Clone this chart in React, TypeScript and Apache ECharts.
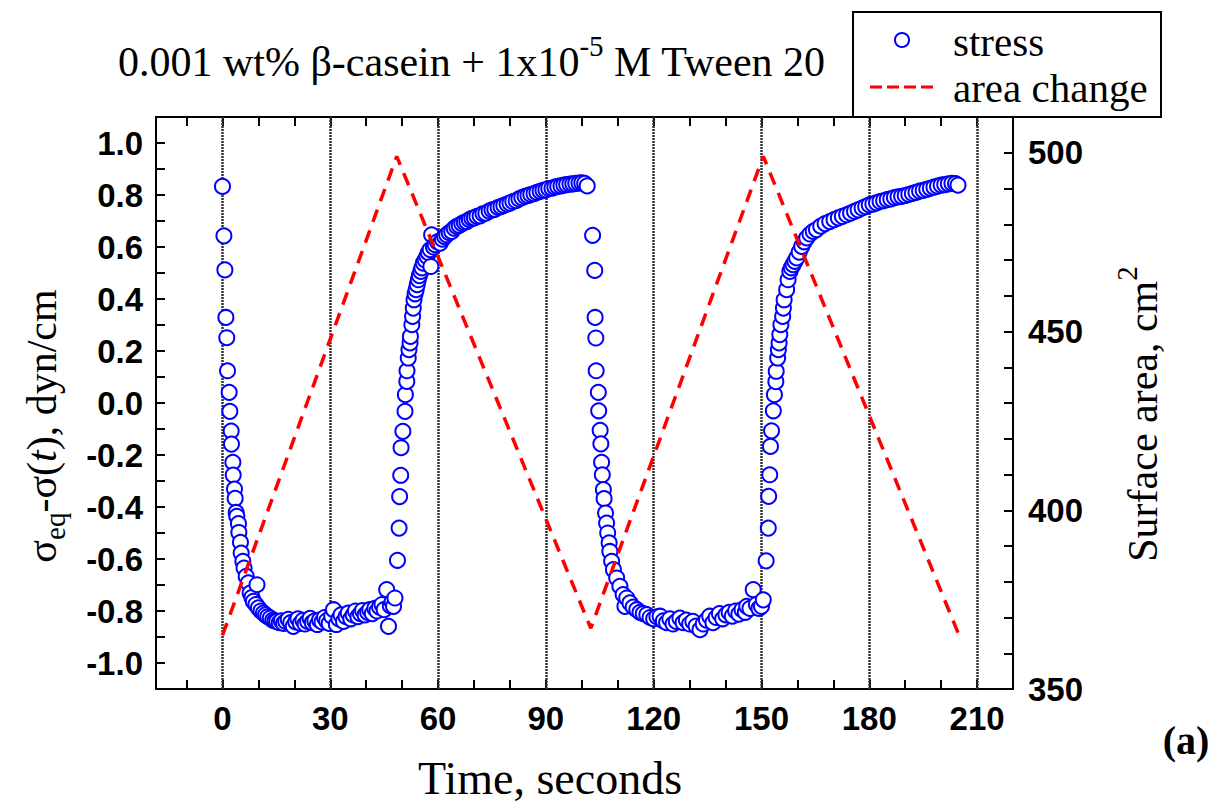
import React, { useEffect, useRef } from "react";
import * as echarts from "echarts";

// stress data: time (s) and sigma_eq - sigma(t) (dyn/cm)
const timeSec: number[] = [
  0, 0.4, 0.67, 0.95, 1.2, 1.4, 1.86, 2.05, 2.42, 2.5,
  2.89, 2.98, 3.34, 3.53, 3.81, 4.0, 4.45, 4.56, 5.0, 5.2,
  5.67, 6.0, 6.6, 7.2, 7.7, 8.2, 8.6, 9.3, 9.6, 10.0,
  10.7, 11.4, 12.0, 12.6, 13.3, 14.0, 14.6, 15.1, 15.8, 16.4,
  17.0, 17.6, 18.3, 19.0, 19.7, 20.4, 21.0, 21.7, 22.4, 23.0,
  23.7, 24.4, 25.0, 25.7, 26.4, 27.0, 27.7, 28.4, 29.0, 29.7,
  30.4, 30.9, 31.7, 32.4, 33.0, 33.7, 34.4, 35.0, 35.7, 36.4,
  37.0, 37.7, 38.4, 39.0, 39.7, 40.4, 41.0, 41.7, 42.4, 43.0,
  43.7, 44.4, 45.0, 45.7, 46.2, 46.7, 47.2, 47.6, 48.0, 48.7,
  49.15, 49.3, 49.6, 49.7, 50.2, 50.8, 50.9, 51.3, 51.35, 51.7,
  51.9, 52.2, 52.3, 52.7, 52.9, 53.1, 53.3, 53.6, 53.9, 54.2,
  54.5, 54.8, 55.2, 55.5, 55.9, 56.4, 56.9, 57.3, 57.8, 58.0,
  58.2, 58.7, 59.2, 59.8, 60.6, 61.2, 61.8, 62.4, 63.1, 63.8,
  64.5, 65.2, 65.9, 66.6, 67.3, 68.0, 68.7, 69.4, 70.1, 70.8,
  71.7, 72.5, 73.3, 74.2, 75.0, 75.8, 76.7, 77.5, 78.3, 79.2,
  80.0, 80.8, 81.7, 82.5, 83.3, 84.2, 85.0, 85.8, 86.7, 87.5,
  88.4, 89.2, 90.0, 90.8, 91.7, 92.5, 93.3, 94.2, 95.0, 95.8,
  96.7, 97.5, 98.3, 99.2, 100.0, 100.8, 101.5,
  103.0, 103.6, 103.7, 103.9, 104.0, 104.6, 104.7, 105.1, 105.3, 105.5,
  105.7, 106.0, 106.2, 106.6, 106.9, 107.2, 107.6, 107.8, 108.3, 108.8,
  109.7, 110.6, 111.5, 112.0, 112.5, 113.4, 114.3, 115.3, 116.2, 117.1,
  118.1, 119.0, 120.0, 120.9, 121.8, 122.7, 123.6, 124.5, 125.4, 126.3,
  127.3, 128.2, 129.1, 130.0, 130.9, 131.8, 132.9, 133.8, 134.7, 135.6,
  136.5, 137.4, 138.3, 139.2, 140.1, 141.0, 141.9, 142.8, 143.7, 144.6,
  145.5, 145.9, 146.8, 147.7, 148.6, 149.3, 150.0, 150.5, 151.3, 151.9,
  152.0, 152.3, 152.5, 152.8, 153.3, 153.6, 154.0, 154.1, 154.5, 154.7,
  154.9, 155.1, 155.4, 155.9, 156.1, 156.3, 157.0, 157.4, 157.9, 158.3,
  158.8, 159.3, 159.8, 160.5, 161.2, 161.9, 162.6, 163.5, 164.4, 165.3,
  166.5, 167.7, 169.0, 170.2, 171.4, 172.5, 173.7, 174.8, 175.9, 176.9,
  178.0, 179.0, 180.0, 181.0, 182.0, 183.0, 184.0, 185.0, 186.0, 187.0,
  188.0, 189.0, 190.0, 191.0, 192.0, 193.0, 194.0, 195.0, 196.0, 197.0,
  198.0, 199.0, 200.0, 201.0, 202.0, 203.0, 204.0, 204.7,
];

const stressVal: number[] = [
  0.833, 0.643, 0.512, 0.329, 0.251, 0.124, 0.041, -0.032, -0.108, -0.158,
  -0.228, -0.277, -0.331, -0.367, -0.421, -0.436, -0.464, -0.498, -0.536, -0.577,
  -0.609, -0.635, -0.667, -0.692, -0.731, -0.748, -0.763, -0.775, -0.699, -0.788,
  -0.8, -0.808, -0.815, -0.822, -0.827, -0.835, -0.838, -0.84, -0.845, -0.838,
  -0.848, -0.84, -0.832, -0.845, -0.859, -0.842, -0.83, -0.848, -0.836, -0.85,
  -0.84, -0.828, -0.845, -0.838, -0.852, -0.835, -0.842, -0.825, -0.838, -0.848,
  -0.82, -0.795, -0.852, -0.83, -0.815, -0.84, -0.822, -0.808, -0.83, -0.815,
  -0.8, -0.822, -0.81, -0.798, -0.815, -0.805, -0.795, -0.81, -0.79, -0.8,
  -0.785, -0.775, -0.795, -0.718, -0.859, -0.78, -0.765, -0.782, -0.75, -0.605,
  -0.481, -0.36, -0.278, -0.172, -0.109, -0.032, 0.032, 0.083, 0.124, 0.173,
  0.205, 0.231, 0.256, 0.301, 0.333, 0.365, 0.397, 0.42, 0.436, 0.455,
  0.474, 0.49, 0.506, 0.52, 0.538, 0.55, 0.564, 0.578, 0.59, 0.525,
  0.647, 0.6, 0.609, 0.62, 0.615, 0.63, 0.64, 0.647, 0.655, 0.66,
  0.672, 0.679, 0.683, 0.69, 0.695, 0.698, 0.705, 0.71, 0.712, 0.718,
  0.72, 0.728, 0.73, 0.738, 0.743, 0.745, 0.752, 0.755, 0.76, 0.765,
  0.769, 0.775, 0.778, 0.785, 0.79, 0.795, 0.798, 0.802, 0.805, 0.81,
  0.814, 0.818, 0.82, 0.825, 0.826, 0.83, 0.833, 0.835, 0.838, 0.84,
  0.842, 0.843, 0.845, 0.846, 0.847, 0.845, 0.835,
  0.645, 0.51, 0.329, 0.25, 0.124, 0.041, -0.03, -0.105, -0.157, -0.228,
  -0.276, -0.333, -0.368, -0.423, -0.462, -0.5, -0.538, -0.571, -0.609, -0.641,
  -0.673, -0.705, -0.737, -0.782, -0.75, -0.769, -0.785, -0.795, -0.805, -0.81,
  -0.814, -0.825, -0.83, -0.822, -0.82, -0.838, -0.845, -0.83, -0.85, -0.84,
  -0.827, -0.845, -0.835, -0.85, -0.84, -0.858, -0.872, -0.85, -0.835, -0.82,
  -0.845, -0.825, -0.81, -0.83, -0.815, -0.805, -0.82, -0.8, -0.812, -0.795,
  -0.805, -0.782, -0.79, -0.718, -0.775, -0.79, -0.782, -0.757, -0.607, -0.481,
  -0.359, -0.276, -0.167, -0.107, -0.03, 0.032, 0.082, 0.122, 0.173, 0.205,
  0.231, 0.263, 0.301, 0.333, 0.365, 0.397, 0.436, 0.474, 0.506, 0.52,
  0.532, 0.545, 0.558, 0.58, 0.602, 0.62, 0.635, 0.65, 0.66, 0.667,
  0.68, 0.69, 0.698, 0.705, 0.712, 0.718, 0.724, 0.73, 0.737, 0.743,
  0.75, 0.755, 0.762, 0.765, 0.77, 0.775, 0.778, 0.782, 0.785, 0.79,
  0.793, 0.795, 0.798, 0.802, 0.806, 0.81, 0.815, 0.818, 0.822, 0.826,
  0.83, 0.834, 0.838, 0.84, 0.843, 0.845, 0.844, 0.838,
];

// area change (triangle wave vertices): time (s) and surface area (cm^2)
const areaTime: number[] = [0, 48.5, 102.5, 150.5, 205];
const areaVal: number[] = [365, 499, 367, 499, 365];

// axes
const gridTimes: number[] = [0, 30, 60, 90, 120, 150, 180, 210];
const xLabelVals: number[] = [0, 30, 60, 90, 120, 150, 180, 210];
const xTickVals: number[] = [-10, 0, 10, 20, 30, 40, 50, 60, 70, 80, 90, 100, 110, 120, 130, 140, 150, 160, 170, 180, 190, 200, 210];
const yLabelVals: number[] = [-1.0, -0.8, -0.6, -0.4, -0.2, 0.0, 0.2, 0.4, 0.6, 0.8, 1.0];
const yTickVals: number[] = [-1.0, -0.9, -0.8, -0.7, -0.6, -0.5, -0.4, -0.3, -0.2, -0.1, 0.0, 0.1, 0.2, 0.3, 0.4, 0.5, 0.6, 0.7, 0.8, 0.9, 1.0];
const rLabelVals: number[] = [350, 400, 450, 500];
const rTickVals: number[] = [350, 360, 370, 380, 390, 400, 410, 420, 430, 440, 450, 460, 470, 480, 490, 500, 510];

const SERIF = "'Liberation Serif', 'Times New Roman', serif";
const SANS = "'Liberation Sans', Arial, sans-serif";

export default function App() {
  const ref = useRef<HTMLDivElement>(null);
  useEffect(() => {
    document.body.style.margin = "0";
    const chart = echarts.init(ref.current as HTMLDivElement, null, { renderer: "svg" });

    const axisLine = { show: true, onZero: false, lineStyle: { color: "#000", width: 2 } };
    const tickStyle = { color: "#000", width: 2 };
    const labelBase = { fontFamily: SANS, fontWeight: "bold", fontSize: 33, color: "#000" };

    const option: any = {
      animation: false,
      backgroundColor: "#fff",
      grid: { left: 156, top: 117, right: 215, bottom: 117, containLabel: false, outerBoundsMode: "none" },
      xAxis: [
        {
          type: "value", min: -18.5, max: 220, position: "bottom",
          axisLine,
          axisTick: { show: true, inside: true, length: 9, lineStyle: tickStyle, customValues: xTickVals },
          axisLabel: { ...labelBase, margin: 13, customValues: xLabelVals },
          splitLine: { show: false },
        },
        {
          type: "value", min: -18.5, max: 220, position: "top",
          axisLine,
          axisTick: { show: true, inside: true, length: 9, lineStyle: tickStyle, customValues: xTickVals },
          axisLabel: { show: false },
          splitLine: { show: false },
        },
      ],
      yAxis: [
        {
          type: "value", min: -1.1, max: 1.1, position: "left",
          axisLine,
          axisTick: { show: true, inside: true, length: 9, lineStyle: tickStyle, customValues: yTickVals },
          axisLabel: { ...labelBase, margin: 13, customValues: yLabelVals, formatter: (v: number) => v.toFixed(1) },
          splitLine: { show: false },
        },
        {
          type: "value", min: 350, max: 510, position: "right",
          axisLine,
          axisTick: { show: true, inside: true, length: 9, lineStyle: tickStyle, customValues: rTickVals },
          axisLabel: { ...labelBase, margin: 15, customValues: rLabelVals },
          splitLine: { show: false },
        },
      ],
      series: [
        {
          name: "grid",
          type: "line",
          data: [],
          z: 1,
          silent: true,
          markLine: {
            silent: true,
            z: 1,
            symbol: ["none", "none"],
            label: { show: false },
            lineStyle: { color: "#333", width: 2.5, type: [2, 1], opacity: 1 },
            data: gridTimes.map((t) => ({ xAxis: t })),
          },
        },
        {
          name: "stress",
          type: "scatter",
          z: 3,
          symbol: "circle",
          symbolSize: 15,
          itemStyle: { color: "#fff", borderColor: "#0000ff", borderWidth: 2, opacity: 1 },
          data: timeSec.map((t, i) => [t, stressVal[i]]),
        },
        {
          name: "area change",
          type: "line",
          yAxisIndex: 1,
          z: 4,
          symbol: "none",
          showSymbol: false,
          lineStyle: { color: "#ff0000", width: 3.5, type: [13, 9] },
          data: areaTime.map((t, i) => [t, areaVal[i]]),
        },
      ],
      graphic: [
        {
          type: "text", x: 118, y: 62, z: 50,
          style: {
            text: "{n|0.001 wt% β-casein + 1x10}{s|-5}{n| M Tween 20}",
            align: "left", verticalAlign: "middle", textAlign: "left", textVerticalAlign: "middle",
            rich: {
              n: { fontFamily: SERIF, fontSize: 42, fill: "#000", color: "#000" },
              s: { fontFamily: SERIF, fontSize: 29, fill: "#000", color: "#000", padding: [0, 0, 32, 0] },
            },
          },
        },
        {
          type: "text", x: 550, y: 778, z: 50,
          style: {
            text: "Time, seconds", font: `46px ${SERIF}`, fill: "#000",
            align: "center", verticalAlign: "middle", textAlign: "center", textVerticalAlign: "middle",
          },
        },
        {
          type: "text", x: 42, y: 426, rotation: Math.PI / 2, z: 50,
          style: {
            text: "{n|σ}{sub|eq}{n|-σ(}{i|t}{n|), dyn/cm}",
            align: "center", verticalAlign: "middle", textAlign: "center", textVerticalAlign: "middle",
            rich: {
              n: { fontFamily: SERIF, fontSize: 42, fill: "#000", color: "#000" },
              i: { fontFamily: SERIF, fontSize: 42, fontStyle: "italic", fill: "#000", color: "#000" },
              sub: { fontFamily: SERIF, fontSize: 29, fill: "#000", color: "#000", padding: [26, 0, 0, 0] },
            },
          },
        },
        {
          type: "text", x: 1143, y: 414, rotation: Math.PI / 2, z: 50,
          style: {
            text: "{n|Surface area, cm}{s|2}",
            align: "center", verticalAlign: "middle", textAlign: "center", textVerticalAlign: "middle",
            rich: {
              n: { fontFamily: SERIF, fontSize: 42, fill: "#000", color: "#000" },
              s: { fontFamily: SERIF, fontSize: 29, fill: "#000", color: "#000", padding: [0, 0, 32, 0] },
            },
          },
        },
        {
          type: "text", x: 1186, y: 740, z: 50,
          style: {
            text: "(a)", font: `bold 40px ${SERIF}`, fill: "#000",
            align: "center", verticalAlign: "middle", textAlign: "center", textVerticalAlign: "middle",
          },
        },
        {
          type: "rect", z: 100,
          shape: { x: 853, y: 12, width: 308, height: 105 },
          style: { fill: "#fff", stroke: "#000", lineWidth: 2 },
        },
        {
          type: "circle", z: 101,
          shape: { cx: 902, cy: 40, r: 7 },
          style: { fill: "#fff", stroke: "#0000ff", lineWidth: 2 },
        },
        {
          type: "line", z: 101,
          shape: { x1: 870, y1: 87, x2: 933, y2: 87 },
          style: { stroke: "#ff0000", lineWidth: 3, lineDash: [12, 5] },
        },
        {
          type: "text", x: 953, y: 42, z: 101,
          style: {
            text: "stress", font: `41px ${SERIF}`, fill: "#000",
            align: "left", verticalAlign: "middle", textAlign: "left", textVerticalAlign: "middle",
          },
        },
        {
          type: "text", x: 953, y: 88, z: 101,
          style: {
            text: "area change", font: `41px ${SERIF}`, fill: "#000",
            align: "left", verticalAlign: "middle", textAlign: "left", textVerticalAlign: "middle",
          },
        },
      ],
    };

    chart.setOption(option);
    return () => chart.dispose();
  }, []);
  return <div ref={ref} style={{ width: 1228, height: 806 }} />;
}
